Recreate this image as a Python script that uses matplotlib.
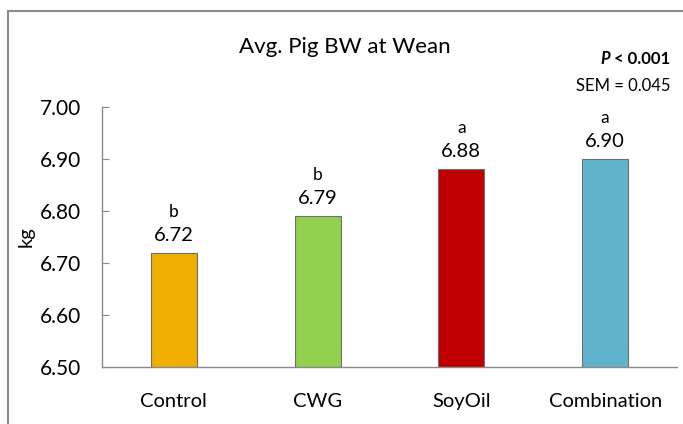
import matplotlib.pyplot as plt
from matplotlib.patches import Rectangle

# Data
groups = ['Control', 'CWG', 'SoyOil', 'Combination']
weights = [6.72, 6.79, 6.88, 6.90]
letters = ['b', 'b', 'a', 'a']
bar_colors = ['#F0AE00', '#92D050', '#C00000', '#60B5CC']
yticks = [6.50, 6.60, 6.70, 6.80, 6.90, 7.00]

plt.rcParams['font.family'] = ['Lato', 'DejaVu Sans']

fig = plt.figure(figsize=(6.83, 4.24), dpi=100)
ax = fig.add_axes([102 / 683, 1 - 367 / 424, 575 / 683, 260 / 424])

# outer frame of the original slide chart
fig.patches.append(Rectangle((8 / 683, -0.1), 1.2, 1 - 11 / 424 + 0.1,
                             transform=fig.transFigure, fill=False,
                             edgecolor='#8a8a8a', linewidth=1.5))

x = range(len(groups))
bars = ax.bar(x, [w - 6.5 for w in weights], bottom=6.5, width=0.32,
              color=bar_colors, edgecolor='#6e6e6e', linewidth=0.8)

for i, w in enumerate(weights):
    ax.annotate(f'{w:.2f}', (i, w), xytext=(0, 9), textcoords='offset pixels',
                ha='center', va='bottom', fontsize=14.5)
    ax.annotate(letters[i], (i, w), xytext=(0, 41), textcoords='offset pixels',
                ha='center', va='center', fontsize=12.5)

ax.set_xlim(-0.5, 3.5)
ax.set_ylim(6.5, 7.0)
ax.set_yticks(yticks)
ax.set_yticklabels([f'{t:.2f}' for t in yticks], fontsize=15)
ax.set_xticks(list(x))
ax.set_xticklabels(groups, fontsize=14.5)
ax.tick_params(axis='y', direction='in', length=5, pad=15, color='#8a8a8a')
ax.tick_params(axis='x', length=0, pad=19)
ax.set_ylabel('kg', fontsize=14.5, labelpad=4)

for side in ['top', 'right']:
    ax.spines[side].set_visible(False)
for side in ['left', 'bottom']:
    ax.spines[side].set_color('#8a8a8a')
    ax.spines[side].set_linewidth(1)

fig.text(345 / 683, 1 - 47 / 424, 'Avg. Pig BW at Wean', ha='center', va='center', fontsize=16)

# "P < 0.001" with an italic bold P
rest = fig.text(670 / 683, 1 - 59 / 424, ' < 0.001', ha='right', va='center',
                fontsize=12, fontweight='bold')
fig.canvas.draw()
bb = rest.get_window_extent().transformed(fig.transFigure.inverted())
fig.text(bb.x0, 1 - 59 / 424, 'P', ha='right', va='center',
         fontsize=12, fontweight='bold', fontstyle='italic')
fig.text(670 / 683, 1 - 86 / 424, 'SEM = 0.045', ha='right', va='center', fontsize=12)

fig.savefig('out.png', dpi=100)
